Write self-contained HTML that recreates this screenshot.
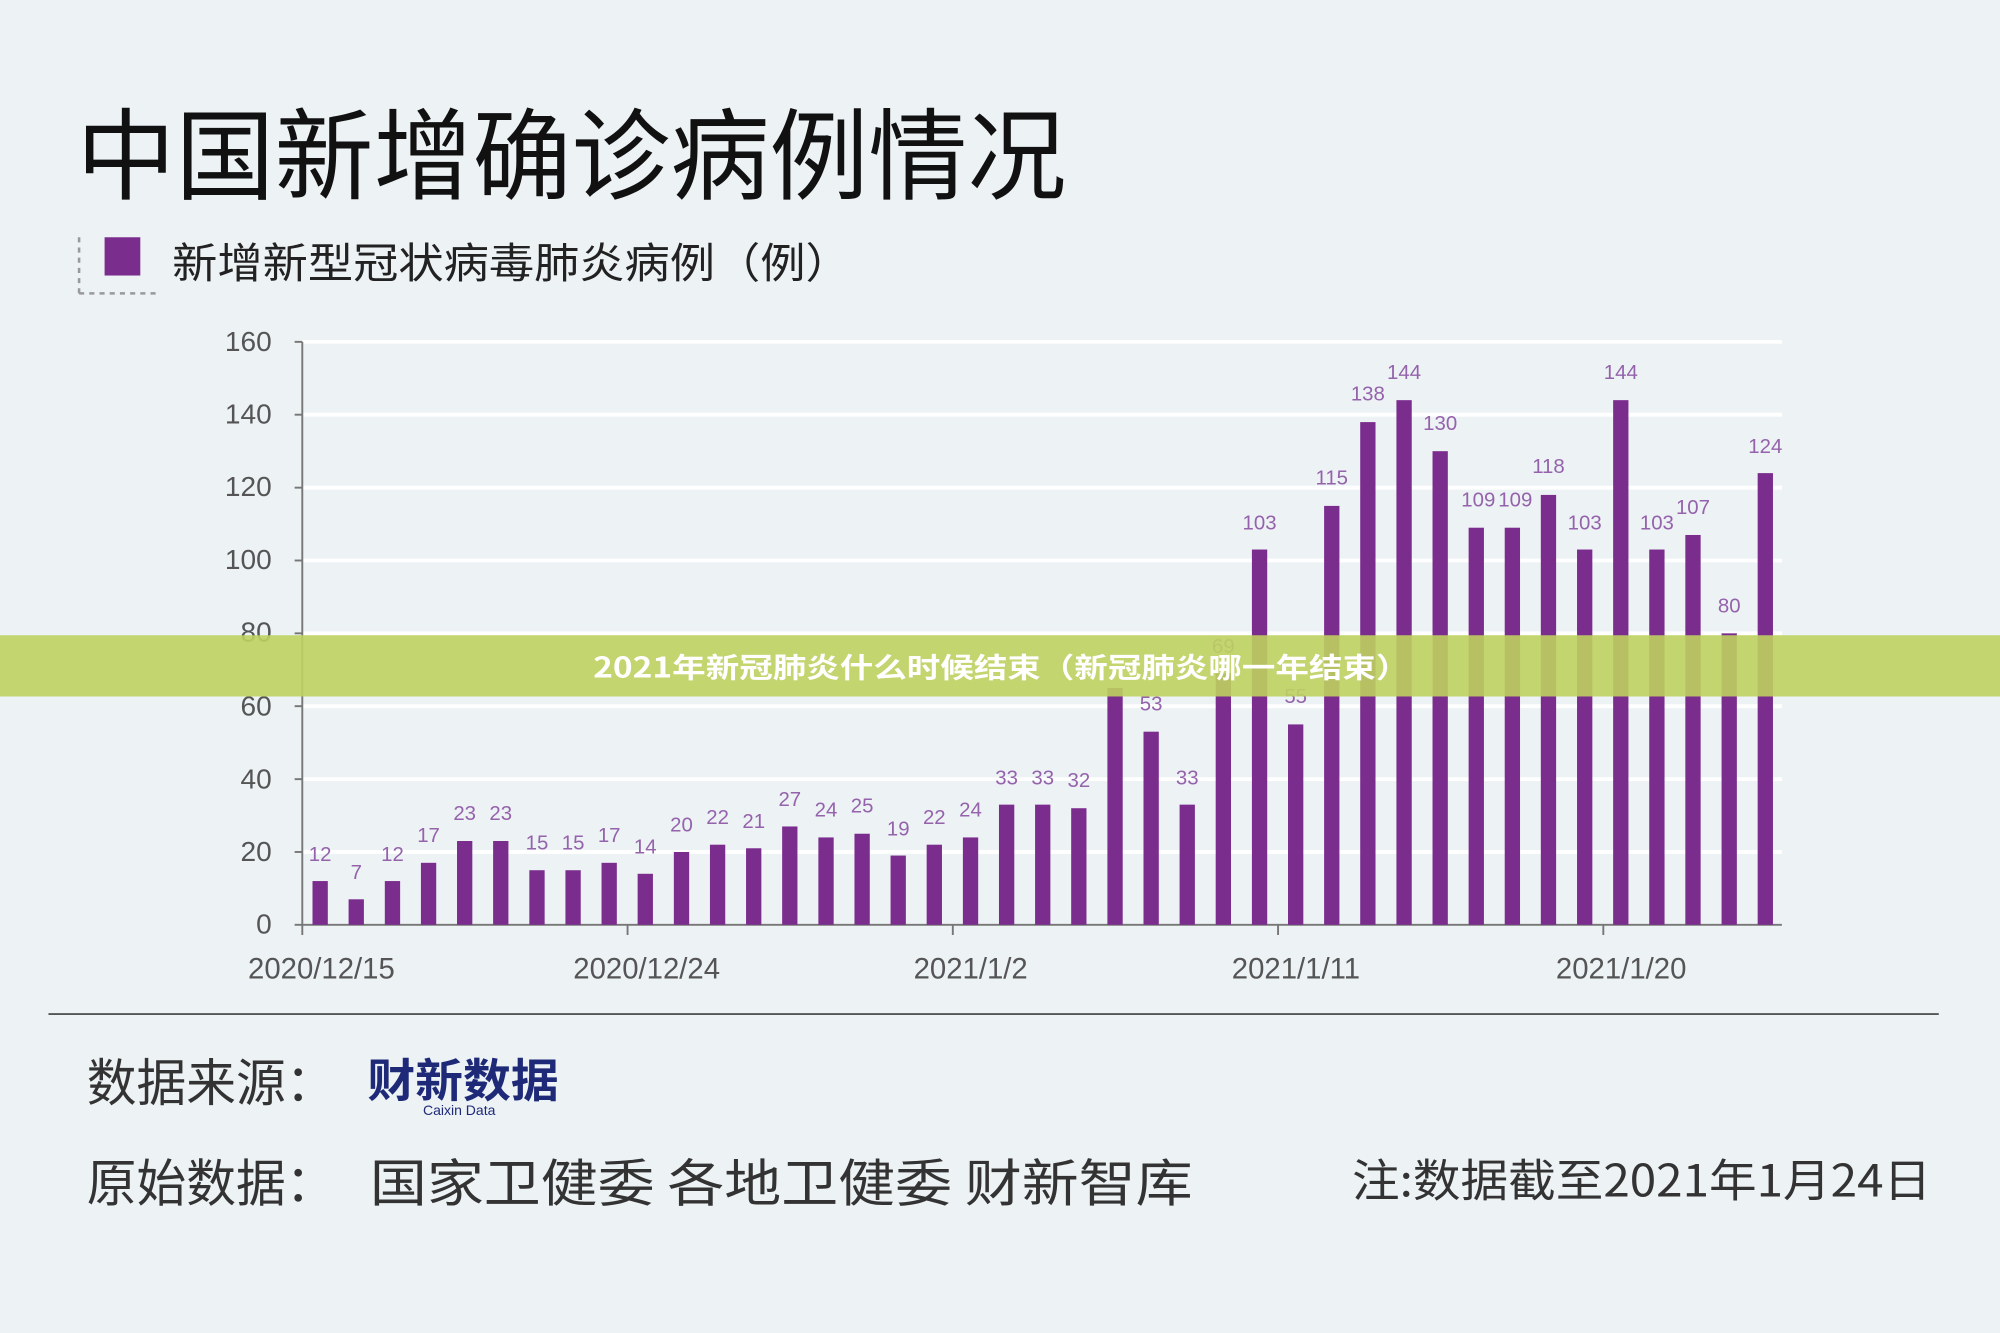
<!DOCTYPE html>
<html><head><meta charset="utf-8"><style>
html,body{margin:0;padding:0;background:#edf2f5;}
svg{display:block}
text{font-family:"Liberation Sans","Noto Sans CJK SC",sans-serif;}
</style></head><body>
<svg width="2000" height="1333" viewBox="0 0 1568 1045" preserveAspectRatio="none" xmlns="http://www.w3.org/2000/svg">
<rect width="1568" height="1045" fill="#edf2f5"/>
<text x="60" y="150" font-size="78" fill="#111" textLength="776" lengthAdjust="spacingAndGlyphs" style="font-family:'Noto Sans CJK SC',sans-serif">中国新增确诊病例情况</text>
<line x1="62" y1="186" x2="62" y2="230" stroke="#999" stroke-width="2" stroke-dasharray="4,4"/>
<line x1="62" y1="230" x2="122" y2="230" stroke="#999" stroke-width="2" stroke-dasharray="4,4"/>
<rect x="82" y="186" width="28" height="30" fill="#7b2d8e"/>
<text x="135" y="218" font-size="33" fill="#222" textLength="532" lengthAdjust="spacingAndGlyphs" style="font-family:'Noto Sans CJK SC',sans-serif">新增新型冠状病毒肺炎病例（例）</text>
<g stroke="#fff" stroke-width="3">
<line x1="237" y1="268" x2="1397" y2="268"/><line x1="237" y1="325.1" x2="1397" y2="325.1"/><line x1="237" y1="382.3" x2="1397" y2="382.3"/><line x1="237" y1="439.4" x2="1397" y2="439.4"/><line x1="237" y1="496.5" x2="1397" y2="496.5"/><line x1="237" y1="553.6" x2="1397" y2="553.6"/><line x1="237" y1="610.8" x2="1397" y2="610.8"/><line x1="237" y1="667.9" x2="1397" y2="667.9"/>
</g>
<g stroke="#777" stroke-width="1.5">
<line x1="237" y1="268" x2="237" y2="726"/><line x1="237" y1="725" x2="1397" y2="725"/>
<line x1="231" y1="268" x2="237" y2="268"/><line x1="231" y1="325.1" x2="237" y2="325.1"/><line x1="231" y1="382.3" x2="237" y2="382.3"/><line x1="231" y1="439.4" x2="237" y2="439.4"/><line x1="231" y1="496.5" x2="237" y2="496.5"/><line x1="231" y1="553.6" x2="237" y2="553.6"/><line x1="231" y1="610.8" x2="237" y2="610.8"/><line x1="231" y1="667.9" x2="237" y2="667.9"/><line x1="231" y1="725" x2="237" y2="725"/>
<line x1="237" y1="725" x2="237" y2="733"/><line x1="492" y1="725" x2="492" y2="733"/><line x1="747" y1="725" x2="747" y2="733"/><line x1="1002" y1="725" x2="1002" y2="733"/><line x1="1257" y1="725" x2="1257" y2="733"/>
</g>
<g font-size="22" fill="#555" text-anchor="end">
<text x="213" y="275">160</text><text x="213" y="332">140</text><text x="213" y="389">120</text><text x="213" y="446">100</text><text x="213" y="503">80</text><text x="213" y="561">60</text><text x="213" y="618">40</text><text x="213" y="675">20</text><text x="213" y="732">0</text>
</g>
<g font-size="23" fill="#555" text-anchor="middle">
<text x="252" y="767">2020/12/15</text><text x="507" y="767">2020/12/24</text><text x="761" y="767">2021/1/2</text><text x="1016" y="767">2021/1/11</text><text x="1271" y="767">2021/1/20</text>
</g>
<g fill="#7b2d8e">
<rect x="245" y="690.7" width="12" height="34.3"/>
<rect x="273.3" y="705" width="12" height="20"/>
<rect x="301.7" y="690.7" width="12" height="34.3"/>
<rect x="330" y="676.4" width="12" height="48.6"/>
<rect x="358.3" y="659.3" width="12" height="65.7"/>
<rect x="386.6" y="659.3" width="12" height="65.7"/>
<rect x="415" y="682.2" width="12" height="42.8"/>
<rect x="443.3" y="682.2" width="12" height="42.8"/>
<rect x="471.6" y="676.4" width="12" height="48.6"/>
<rect x="499.9" y="685" width="12" height="40"/>
<rect x="528.3" y="667.9" width="12" height="57.1"/>
<rect x="556.6" y="662.2" width="12" height="62.8"/>
<rect x="584.9" y="665" width="12" height="60"/>
<rect x="613.2" y="647.9" width="12" height="77.1"/>
<rect x="641.6" y="656.5" width="12" height="68.5"/>
<rect x="669.9" y="653.6" width="12" height="71.4"/>
<rect x="698.2" y="670.7" width="12" height="54.3"/>
<rect x="726.5" y="662.2" width="12" height="62.8"/>
<rect x="754.9" y="656.5" width="12" height="68.5"/>
<rect x="783.2" y="630.8" width="12" height="94.2"/>
<rect x="811.5" y="630.8" width="12" height="94.2"/>
<rect x="839.8" y="633.6" width="12" height="91.4"/>
<rect x="868.2" y="539.4" width="12" height="185.6"/>
<rect x="896.5" y="573.6" width="12" height="151.4"/>
<rect x="924.8" y="630.8" width="12" height="94.2"/>
<rect x="953.1" y="527.9" width="12" height="197.1"/>
<rect x="981.5" y="430.8" width="12" height="294.2"/>
<rect x="1009.8" y="567.9" width="12" height="157.1"/>
<rect x="1038.1" y="396.6" width="12" height="328.4"/>
<rect x="1066.4" y="330.9" width="12" height="394.1"/>
<rect x="1094.8" y="313.7" width="12" height="411.3"/>
<rect x="1123.1" y="353.7" width="12" height="371.3"/>
<rect x="1151.4" y="413.7" width="12" height="311.3"/>
<rect x="1179.7" y="413.7" width="12" height="311.3"/>
<rect x="1208" y="388" width="12" height="337"/>
<rect x="1236.4" y="430.8" width="12" height="294.2"/>
<rect x="1264.7" y="313.7" width="12" height="411.3"/>
<rect x="1293" y="430.8" width="12" height="294.2"/>
<rect x="1321.3" y="419.4" width="12" height="305.6"/>
<rect x="1349.7" y="496.5" width="12" height="228.5"/>
<rect x="1378" y="370.9" width="12" height="354.1"/>
</g>
<g font-size="16" fill="#9463ab" text-anchor="middle">
<text x="251" y="675">12</text><text x="279.3" y="689">7</text><text x="307.7" y="675">12</text><text x="336" y="660">17</text><text x="364.3" y="643">23</text><text x="392.6" y="643">23</text><text x="421" y="666">15</text><text x="449.3" y="666">15</text><text x="477.6" y="660">17</text><text x="505.9" y="669">14</text><text x="534.3" y="652">20</text><text x="562.6" y="646">22</text><text x="590.9" y="649">21</text><text x="619.2" y="632">27</text><text x="647.6" y="640">24</text><text x="675.9" y="637">25</text><text x="704.2" y="655">19</text><text x="732.5" y="646">22</text><text x="760.9" y="640">24</text><text x="789.2" y="615">33</text><text x="817.5" y="615">33</text><text x="845.8" y="617">32</text><text x="902.5" y="557">53</text><text x="930.8" y="615">33</text><text x="959.1" y="512">69</text><text x="987.5" y="415">103</text><text x="1015.8" y="551">55</text><text x="1044.1" y="380">115</text><text x="1072.4" y="314">138</text><text x="1100.8" y="297">144</text><text x="1129.1" y="337">130</text><text x="1159" y="397">109</text><text x="1188" y="397">109</text><text x="1214" y="371">118</text><text x="1242.4" y="415">103</text><text x="1270.7" y="297">144</text><text x="1299" y="415">103</text><text x="1327.3" y="403">107</text><text x="1355.7" y="480">80</text><text x="1384" y="355">124</text>
</g>
<rect x="0" y="498" width="1568" height="48" fill="rgb(190,210,95)" fill-opacity="0.9"/>
<text x="465" y="531" font-size="22" font-weight="bold" fill="#fff" textLength="640" lengthAdjust="spacingAndGlyphs" style="font-family:'Noto Sans CJK SC',sans-serif">2021年新冠肺炎什么时候结束（新冠肺炎哪一年结束）</text>
<line x1="38" y1="795" x2="1520" y2="795" stroke="#555" stroke-width="1.5"/>
<text x="68" y="863" font-size="40" fill="#333" textLength="195" lengthAdjust="spacingAndGlyphs" style="font-family:'Noto Sans CJK SC',sans-serif">数据来源：</text>
<text x="288" y="860" font-size="36" font-weight="bold" fill="#1e2a78" textLength="150" lengthAdjust="spacingAndGlyphs" style="font-family:'Noto Sans CJK SC',sans-serif">财新数据</text>
<text x="360" y="874" font-size="11" fill="#1e2a78" text-anchor="middle">Caixin Data</text>
<text x="68" y="942" font-size="40" fill="#333" textLength="195" lengthAdjust="spacingAndGlyphs" style="font-family:'Noto Sans CJK SC',sans-serif">原始数据：</text>
<text x="290" y="942" font-size="40" fill="#333" textLength="645" lengthAdjust="spacingAndGlyphs" style="font-family:'Noto Sans CJK SC',sans-serif">国家卫健委  各地卫健委  财新智库</text>
<text x="1060" y="938" font-size="35" fill="#333" textLength="454" lengthAdjust="spacingAndGlyphs" style="font-family:'Noto Sans CJK SC',sans-serif">注:数据截至2021年1月24日</text>
</svg>
</body></html>
